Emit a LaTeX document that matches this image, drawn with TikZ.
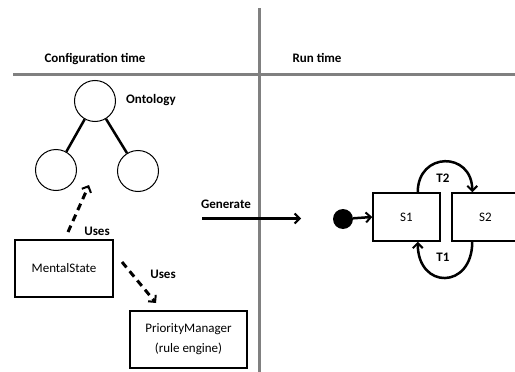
\documentclass[tikz,border=0pt]{standalone}
\usepackage{fontspec}
\setmainfont{Carlito}
\usetikzlibrary{arrows.meta}
\begin{document}
\begin{tikzpicture}[x=1pt,y=-1pt,
  every node/.style={font=\fontsize{13}{15}\selectfont, inner sep=0pt},
  lbl/.style={font=\fontsize{13}{15}\selectfont\bfseries, anchor=base},
  sep/.style={draw=black!50, line width=3pt},
  circ/.style={draw, circle, line width=1pt, minimum size=41pt},
  tree/.style={line width=2.5pt},
  box/.style={draw, line width=1.5pt, align=center},
  tip/.style={-{Straight Barb[length=5pt,width=10pt,line width=2pt]}},
  conn/.style={line width=2.5pt, tip},
  dasharrow/.style={line width=3pt, dash pattern=on 7pt off 5pt, tip}
]
\clip (0,0) rectangle (515,372);
\fill[white] (0,0) rectangle (515,372);
% separators
\coordinate (vtop) at (259,8);
\coordinate (vbot) at (259,372);
\coordinate (hl) at (13,74);
\coordinate (hr) at (515,74);
\draw[sep] (vtop) -- (vbot);
\draw[sep] (hl) -- (hr);
\node[lbl] (cfg) at (95,63) {Configuration time};
\node[lbl] (run) at (317,63) {Run time};
% ontology
\node[circ] (o1) at (95,101) {};
\node[circ] (o2) at (56,170) {};
\node[circ] (o3) at (138,171) {};
\draw[tree] (o1) -- (o2);
\draw[tree] (o1) -- (o3);
\node[lbl, anchor=base west] (ont) at (126,103) {Ontology};
% boxes
\node[box, minimum width=98pt, minimum height=57pt] (ms) at (64,268.5) {MentalState};
\node[box, minimum width=117pt, minimum height=57pt, font=\fontsize{13}{20}\selectfont] (pm) at (188.5,339.5) {PriorityManager\\(rule engine)};
% uses arrows
\coordinate (u1s) at (68,232);
\coordinate (u1e) at (89,185);
\draw[dasharrow] (u1s) -- (u1e);
\node[lbl] (uses1) at (97,235) {Uses};
\coordinate (u2s) at (122,262);
\coordinate (u2e) at (156,303);
\draw[dasharrow] (u2s) -- (u2e);
\node[lbl] (uses2) at (163,278) {Uses};
% generate
\node[lbl] (gen) at (226,208) {Generate};
\coordinate (gs) at (202,218.5);
\coordinate (ge) at (301,218.5);
\draw[conn] (gs) -- (ge);
% state machine
\node[circle, fill=black, minimum size=20pt] (init) at (343,219) {};
\node[box, minimum width=67pt, minimum height=48pt] (s1) at (406.5,217) {S1};
\node[box, minimum width=67pt, minimum height=48pt] (s2) at (485.5,217) {S2};
\draw[conn] (init) -- (s1.west);
\draw[conn] ([xshift=-23pt]s1.north east) .. controls +(0,-41) and +(0,-41) .. ([xshift=21pt]s2.north west);
\draw[conn] ([xshift=21pt]s2.south west) .. controls +(0,48) and +(0,48) .. ([xshift=-23pt]s1.south east);
\node[lbl] (t2) at (443,182) {T2};
\node[lbl] (t1) at (443,261) {T1};
\end{tikzpicture}
\end{document}
